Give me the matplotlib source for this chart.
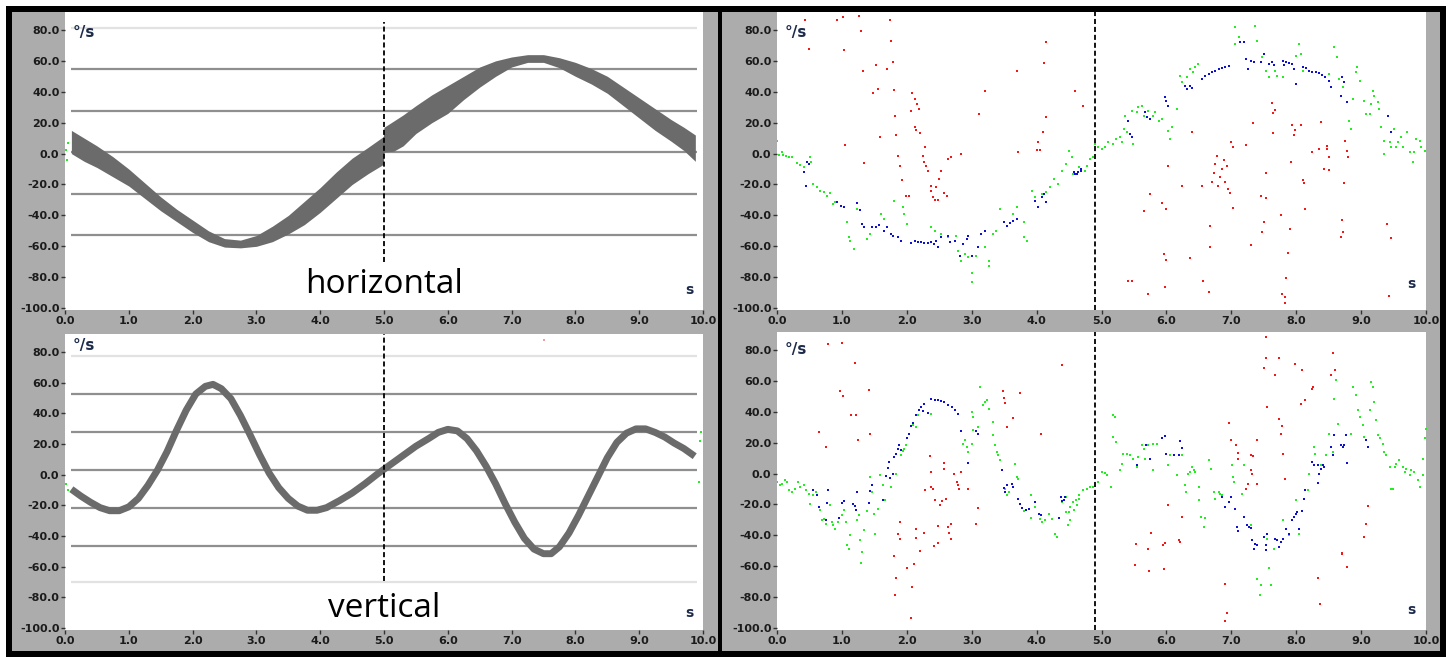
import numpy as np
import matplotlib
matplotlib.use("Agg")
import matplotlib.pyplot as plt
from matplotlib.patches import Rectangle

# ---- размеры картинки (пиксели) ----
W, H = 1451, 657

# ---- оси ----
x_ticks = list(range(0, 11))
y_ticks = list(range(-100, 81, 20))

# опорные горизонтальные линии (значения, °/s)
ref_top = [54.6, 27.7, 0.8, -26.0, -52.7]
ref_top_light = [81.0]
ref_bot = [52.6, 27.8, 3.0, -21.8, -46.7]
ref_bot_light = [77.4, -70.0]

# ---- horizontal: полоса (верхняя и нижняя граница) ----
h_t = [0.10, 0.30, 0.50, 0.75, 1.00, 1.25, 1.50, 1.75, 2.00, 2.25, 2.50, 2.75,
       3.00, 3.25, 3.50, 3.75, 4.00, 4.25, 4.50, 4.75, 4.99,
       5.00, 5.15, 5.30, 5.50, 5.75, 6.00, 6.25, 6.50, 6.75, 7.00, 7.25, 7.50,
       7.75, 8.00, 8.25, 8.50, 8.75, 9.00, 9.25, 9.50, 9.70, 9.88]
h_upper = [15, 10, 5, -2, -10, -19, -28, -36, -43, -50, -55, -56,
           -53, -47, -40, -31, -22, -12, -3, 4, 11,
           17, 21, 25, 31, 38, 44, 50, 56, 60, 62.5, 64, 64,
           62, 59, 55, 50, 43, 36, 29, 22, 17, 12]
h_lower = [0, -5, -9, -15, -21, -29, -37, -44, -51, -57, -60.5, -61,
           -60, -57, -52, -46, -38, -29, -20, -13, -7,
           1, 1.5, 5, 13, 20, 26, 35, 43, 50, 56, 59, 59,
           55.5, 50, 45, 39, 31, 23, 15, 8, 2, -5]

# ---- vertical: линия ----
v_t = [0.10, 0.25, 0.40, 0.55, 0.70, 0.85, 1.00, 1.15, 1.30, 1.45, 1.60, 1.75,
       1.90, 2.05, 2.20, 2.32, 2.45, 2.60, 2.75, 2.90, 3.05, 3.20, 3.35, 3.50,
       3.65, 3.80, 3.95, 4.10, 4.30, 4.50, 4.70, 4.90, 5.10, 5.30, 5.50, 5.70,
       5.85, 6.00, 6.15, 6.30, 6.45, 6.60, 6.75, 6.90, 7.05, 7.20, 7.35, 7.50,
       7.62, 7.75, 7.90, 8.05, 8.20, 8.35, 8.50, 8.65, 8.80, 8.95, 9.10, 9.25,
       9.40, 9.55, 9.70, 9.87]
v_val = [-9.5, -14, -18, -21.5, -23.5, -23.5, -21, -15.5, -7, 3, 15, 29,
         42, 52.5, 57.5, 58.8, 56, 49.5, 38.5, 26, 13, 1, -8.5, -15.5,
         -20.5, -23.2, -23.2, -21.5, -17, -12, -6, 0.5, 6.5, 12.5, 18.5, 23.5,
         27.5, 29.5, 28.5, 23.5, 15.5, 5.5, -6, -19, -31, -41.5, -48.5, -51.5,
         -51.5, -47, -38, -26.5, -14, -1.5, 11, 21, 27, 29.8, 29.8, 27.5,
         24.5, 20.5, 17, 12]

# остаточные точки у краёв левых панелей
tl_specks = [(0.02, 2), (0.04, 7), (0.03, -4)]
bl_specks = [(0.02, -6), (0.05, -10), (9.97, 28), (9.95, 22), (9.94, -5)]
bl_pink = [(7.5, 88)]

# ---- правый верхний: точки ----
tr_green = [(0.0, 8.4), (0.03, -0.6), (0.07, 0.9), (0.1, -0.6), (0.14, -1.3), (0.18, -2.4),
            (0.23, -1.9), (0.31, -6.3), (0.35, -7.3), (0.41, -8.8), (0.51, -2.4), (0.53, -5.6),
            (0.56, -19.6), (0.62, -21.8), (0.67, -24), (0.72, -25), (0.77, -27.2), (0.82, -25.7),
            (0.87, -32.6), (0.9, -31.5), (1.08, -44.4), (1.11, -54.2), (1.13, -56.3), (1.19, -61.7),
            (1.24, -35.8), (1.34, -47.7), (1.39, -55.2), (1.44, -52), (1.6, -39), (1.65, -42.3),
            (1.81, -30.4), (1.94, -34.7), (1.96, -39), (2.01, -45.5), (2.38, -47.7), (2.43, -49.8),
            (2.53, -52), (2.64, -54.2), (2.76, -53.1), (2.79, -62.8), (2.84, -69.3), (2.89, -64.9),
            (2.95, -67.1), (3.0, -77.5), (3.01, -83.3), (3.07, -66), (3.2, -60.6), (3.26, -69.3),
            (3.27, -72.5), (3.33, -52), (3.38, -49.8), (3.44, -35.8), (3.64, -39), (3.7, -34.7),
            (3.8, -44.4), (3.81, -54.2), (3.85, -56.3), (3.93, -23.9), (3.98, -28.3), (4.08, -26.1),
            (4.14, -25), (4.21, -21.8), (4.27, -16.4), (4.33, -19.6), (4.39, -11), (4.45, -6.7),
            (4.5, 1.9), (4.54, -2.4), (4.56, -13.2), (4.66, -8.8), (4.74, -11), (4.77, -7.8),
            (4.82, -3.5), (4.87, -2.4), (4.9, 6.3), (4.95, 4.1), (5.0, 3), (5.05, 4.1), (5.1, 7.3),
            (5.18, 6.3), (5.23, 9.5), (5.28, 10.6), (5.31, 7.3), (5.34, 16), (5.39, 13.8),
            (5.49, 6.3), (5.36, 24.6), (5.47, 27.8), (5.54, 26.8), (5.57, 30), (5.62, 31.1),
            (5.65, 24.6), (5.72, 27.8), (5.8, 24.6), (5.83, 26.8), (5.88, 21.4), (5.93, 22.4),
            (6.03, 14.9), (6.06, 9.5), (6.08, 17), (6.16, 28.9), (6.21, 50.5), (6.24, 46.2),
            (6.31, 49.4), (6.36, 54.8), (6.41, 52.6), (6.44, 55.9), (6.49, 58.0), (7.06, 81.8),
            (7.12, 75.3), (7.06, 71), (7.37, 82.8), (7.4, 73.1), (7.48, 62.4), (7.53, 53.7),
            (7.58, 49.4), (7.68, 53.7), (7.71, 50.5), (7.79, 49.4), (8.0, 63.4), (8.04, 71),
            (8.07, 64.5), (8.1, 53.7), (8.51, 51.6), (8.58, 68.8), (8.63, 62.4), (8.66, 48.3),
            (8.72, 42.9), (8.82, 21.4), (8.84, 16), (8.87, 35.4), (8.92, 52.6), (8.94, 55.9),
            (8.99, 47.2), (9.05, 34.3), (9.08, 25.7), (9.13, 25.7), (9.15, 32.1), (9.18, 40.8),
            (9.2, 37.5), (9.26, 33.2), (9.28, 28.9), (9.31, 17), (9.36, 8.4), (9.36, -0.2),
            (9.44, 7.3), (9.46, 4.1), (9.51, 16), (9.54, 4.1), (9.57, 7.3), (9.62, 10.6),
            (9.64, 4.1), (9.7, 13.8), (9.75, 0.9), (9.8, -5.6), (9.82, 0.9), (9.85, 9.5),
            (9.9, 8.4), (9.93, 4.1), (9.98, 1.9)]
tr_blue = [(0.46, -5.6), (0.49, -6.7), (0.41, -12.1), (0.45, -20.7), (0.93, -31.5), (0.98, -33.7),
           (1.03, -34.3), (1.24, -32.1), (1.28, -36.5), (1.31, -45.5), (1.34, -47.7), (1.47, -47.7),
           (1.52, -47.2), (1.57, -46), (1.65, -49.8), (1.7, -47.7), (1.75, -52), (1.78, -53.1),
           (1.86, -54.2), (1.91, -56.3), (2.07, -58), (2.12, -56.7), (2.17, -57), (2.22, -57.4),
           (2.27, -57.6), (2.32, -58), (2.38, -57.4), (2.42, -58.5), (2.45, -56.3), (2.48, -60.6),
           (2.53, -54.2), (2.64, -53.1), (2.66, -57.4), (2.74, -56.3), (2.82, -66), (2.87, -58.5),
           (2.92, -55.2), (2.95, -53.1), (3.0, -66), (3.1, -60.6), (3.15, -52), (3.2, -49.8),
           (3.49, -44.4), (3.54, -46.6), (3.59, -45.1), (3.64, -43.4), (3.7, -42.3), (3.98, -30.4),
           (4.02, -34.7), (4.08, -28.3), (4.11, -26.1), (4.14, -31.5), (4.58, -12.1), (4.63, -13.2),
           (4.68, -11), (4.59, -13.2), (4.64, -12.1), (4.69, -9.9), (5.41, 21.4), (5.44, 12.7),
           (5.47, 10.6), (5.67, 26.8), (5.7, 23.5), (5.75, 22.4), (5.98, 36.5), (6.0, 34.3),
           (6.03, 31.1), (6.29, 44), (6.31, 41.9), (6.36, 44), (6.39, 42.5), (6.55, 48.3),
           (6.6, 50.5), (6.65, 51.6), (6.7, 52.6), (6.75, 53.7), (6.81, 54.8), (6.86, 55.2),
           (6.91, 55.9), (6.96, 56.5), (7.14, 72.1), (7.19, 72.1), (7.22, 61.3), (7.25, 54.8),
           (7.3, 60.2), (7.35, 59.1), (7.45, 59.1), (7.5, 64.5), (7.58, 58), (7.63, 59.1),
           (7.66, 57), (7.79, 60.2), (7.81, 57), (7.84, 59.1), (7.89, 58.5), (7.94, 58),
           (7.97, 54.8), (8.0, 45.1), (8.1, 55.9), (8.15, 55.2), (8.2, 53.7), (8.25, 53.1),
           (8.3, 52.6), (8.35, 52), (8.4, 51.1), (8.45, 49.8), (8.51, 47.2), (8.53, 42.9),
           (8.71, 49.4), (8.74, 46.2), (8.69, 37.5), (8.79, 33.2), (9.41, 24.6), (9.46, 13.8)]
tr_red = [(0.43, 86.5), (0.49, 67.7), (0.93, 86.5), (1.02, 88.2), (1.03, 66.7), (1.26, 89.3),
          (1.3, 79.2), (1.33, 53.3), (1.48, 39.5), (1.56, 41.9), (1.53, 57.6), (1.58, 11),
          (1.74, 86.5), (1.76, 73.1), (1.7, 54.4), (1.78, 59.5), (1.81, 41.2), (1.82, 24.6),
          (1.84, 11.7), (1.05, 5.8), (1.34, -6.3), (1.87, -1.3), (1.9, -7.8), (1.92, -16.8),
          (1.99, -27.2), (2.04, -27.2), (2.07, 27.8), (2.08, 39), (2.12, 35.4), (2.16, 32.1),
          (2.19, 28.9), (2.13, 17), (2.14, 15.3), (2.21, 13.2), (2.28, 4.1), (2.25, -1.3),
          (2.26, -5.6), (2.3, -7.8), (2.32, -11.4), (2.38, -20.7), (2.37, -24.4), (2.4, -28.3),
          (2.44, -29.8), (2.48, -30), (2.45, -21.4), (2.49, -16.4), (2.52, -11.4), (2.58, -25.5),
          (2.62, -27.2), (2.63, -3.5), (2.68, -2.4), (2.83, -0.2), (3.11, 25.7), (3.21, 40.8),
          (3.7, 53.3), (3.72, 0.9), (4.0, 2.4), (4.06, 2.4), (4.02, 7.3), (4.1, 14.2),
          (4.14, 23.5), (4.12, 58.7), (4.14, 72.1), (4.59, 40.3), (4.72, 31.1), (6.03, -8.2),
          (6.24, -20.7), (6.39, 14.2), (5.65, -37.3), (5.75, -26.1), (5.93, -31.9), (6.0, -35.8),
          (5.96, -64.9), (6.0, -68.8), (5.98, -86.1), (5.72, -90.8), (5.41, -82.6), (5.47, -82.6),
          (6.37, -67.5), (6.55, -20.7), (6.57, -82.6), (6.65, -89.8), (6.67, -60.2), (6.67, -46.6),
          (6.7, -18.6), (6.73, -12.7), (6.75, -6.7), (6.78, -1.3), (6.8, -20.7), (6.83, -15.3),
          (6.86, -9.9), (6.88, -4.1), (6.9, -18.6), (6.93, -8.2), (6.95, -22.9), (6.98, -25.7),
          (6.99, 7.3), (7.02, 4.1), (7.02, -35.2), (7.23, 5.8), (7.31, -59.1), (7.33, 19.8),
          (7.45, -27.2), (7.48, -50.9), (7.5, -44.4), (7.53, -12.5), (7.54, -28.9), (7.62, 32.6),
          (7.64, 26.1), (7.67, 28.3), (7.65, 13.4), (7.76, -39.5), (7.78, -90.8), (7.82, -93),
          (7.83, -96.9), (7.85, -80.5), (7.88, -64.3), (7.9, -48.8), (7.92, -5.2), (7.93, 18.8),
          (7.96, 11.7), (7.98, 15.3), (8.07, 18.6), (8.1, -17), (8.12, -19.2), (8.14, -35.8),
          (8.25, 0.9), (8.35, 3), (8.38, 20.3), (8.43, -9.9), (8.47, 5.2), (8.48, 3),
          (8.5, -1.9), (8.51, -10.6), (8.71, -42.7), (8.72, -50.9), (8.69, -53.7), (8.74, -19.2),
          (8.75, 8.4), (8.78, 1.9), (8.8, -2.4), (9.4, -45.5), (9.46, -54.6), (9.43, -91.9)]

# ---- правый нижний: точки ----
br_green = [(0.0, -5.4), (0.04, -7.6), (0.07, -6.5), (0.12, -4.3), (0.16, -5.4), (0.19, -10.8),
            (0.23, -11.9), (0.28, -9.7), (0.32, -5.4), (0.36, -8.6), (0.41, -7.6), (0.45, -10.8),
            (0.49, -12.9), (0.51, -19.4), (0.55, -14), (0.6, -11.9), (0.66, -23.7), (0.69, -30.2),
            (0.72, -29.1), (0.75, -32.4), (0.82, -20.5), (0.85, -31.3), (0.87, -33.4), (0.9, -36),
            (0.94, -31.3), (1.0, -27), (1.03, -23.7), (1.06, -31.3), (1.08, -46.4), (1.11, -48.5),
            (1.13, -39.9), (1.24, -30.2), (1.26, -27), (1.28, -43.1), (1.31, -50.7), (1.3, -57.8),
            (1.34, -36.2), (1.39, -24.4), (1.44, -2.2), (1.47, -11.9), (1.51, -38.8), (1.5, -25.9),
            (1.55, -22.7), (1.58, -1.1), (1.63, -7.6), (1.66, -17.3), (1.76, -8.6), (1.84, 0),
            (1.91, 11.9), (1.94, 14.5), (1.96, 16.2), (1.99, 18.3), (2.01, 22.7), (2.09, 31.3),
            (2.14, 30.2), (2.17, 37.8), (2.37, 38.8), (3.0, 39.9), (2.87, 19.4), (2.89, 21.6),
            (2.92, 17.3), (2.95, 14), (3.0, 19.4), (3.02, 28), (3.02, 36.7), (3.1, 30.2),
            (3.13, 56.1), (3.18, 44.2), (3.2, 46.4), (3.23, 47.5), (3.26, 42.1), (3.33, 33.4),
            (3.33, 24.8), (3.36, 18.3), (3.39, 14), (3.41, 11.9), (3.44, 8.6), (3.51, -9.7),
            (3.54, -14), (3.57, -11.9), (3.67, 6.5), (3.7, -2.2), (3.72, -3.2), (3.8, -24.4),
            (3.91, -28.7), (3.91, -14), (3.98, -21.6), (4.06, -29.1), (4.08, -31.3), (4.13, -30.2),
            (4.19, -25.9), (4.23, -29.1), (4.29, -38.8), (4.32, -41), (4.39, -18.3), (4.45, -15.1),
            (4.5, -24.8), (4.52, -30.2), (4.58, -23.7), (4.63, -20.5), (4.65, -16.2),
            (4.46, -24.8), (4.49, -33.4), (4.51, -21.6), (4.56, -18.3), (4.61, -17.3), (4.66, -14),
            (4.72, -10.8), (4.77, -9.7), (4.82, -8.6), (4.87, -8.6), (4.95, -5.4), (5.0, 1.1),
            (5.05, 0.6), (5.08, -1.1), (5.15, -8.6), (5.18, 37.8), (5.21, 36.7), (5.18, 23.7),
            (5.23, 20.5), (5.28, 2.2), (5.31, 6.5), (5.33, 12.9), (5.39, 12.9), (5.44, 11.9),
            (5.49, 9.7), (5.54, 4.3), (5.57, 10.8), (5.62, 18.3), (5.65, 16.2), (5.67, 9.7),
            (5.72, 18.3), (5.79, 2.2), (5.8, 19.4), (5.85, 19.4), (5.93, 22.7), (6.03, 5.4),
            (6.06, 11.9), (6.11, 11.9), (6.16, -1.1), (6.24, 11.9), (6.29, -7.6), (6.3, -11.9),
            (6.34, 0), (6.37, 1.1), (6.39, 4.3), (6.42, 2.2), (6.44, 1.1), (6.5, -8.6),
            (6.5, -17.3), (6.54, -28), (6.58, -34.5), (6.6, -28.7), (6.65, 8.6), (6.68, 3.2),
            (6.73, -11.9), (6.75, -16.2), (6.81, -11.9), (6.83, -12.9), (6.86, -14), (7.01, 5.4),
            (7.02, -2.2), (7.04, -5.4), (7.17, -12.9), (7.19, 5.4), (7.3, -33.4), (7.4, -68),
            (7.45, -72.3), (7.44, -78.7), (7.58, -61.1), (7.61, -72.3), (7.55, -42.1), (7.66, -48.5),
            (7.79, -30.2), (7.89, -39.9), (8.0, -17.3), (8.05, -38.8), (8.18, -10.8), (8.2, 0),
            (8.28, 17.3), (8.29, 12.9), (8.38, 5.4), (8.46, 11.9), (8.51, 25.9), (8.56, 14),
            (8.59, 48.5), (8.61, 60.4), (8.64, 32.4), (8.84, 25.9), (8.87, 56.1), (8.92, 50.7),
            (8.95, 41), (8.98, 36.7), (9.03, 31.3), (9.05, 23.7), (9.13, 41), (9.15, 59.3),
            (9.18, 56.1), (9.2, 46.4), (9.23, 34.5), (9.26, 24.8), (9.29, 22.7), (9.33, 19.4),
            (9.36, 14), (9.39, 11.9), (9.44, 4.3), (9.46, -9.7), (9.49, -9.7), (9.52, 4.3),
            (9.54, 6.5), (9.59, 8.6), (9.64, 4.3), (9.67, 1.1), (9.69, 3.2), (9.75, -1.1),
            (9.77, 2.2), (9.82, 1.1), (9.88, -4.3), (9.9, -8.6), (9.95, -1.1), (9.95, 9.7),
            (9.98, 22.7), (10.0, 29.1)]
br_blue = [(0.56, -10.8), (0.61, -14), (0.64, -21.6), (0.78, -10.8), (0.77, -19), (0.75, -30.2),
           (0.95, -28.7), (1.0, -18.8), (1.03, -17.9), (1.17, -19.4), (1.2, -21.1), (1.21, -23.7),
           (1.24, -11.9), (1.41, -19), (1.44, -11.4), (1.47, -7.6), (1.64, -17.3), (1.68, -1.7),
           (1.71, 3.9), (1.72, 7.6), (1.74, -2.6), (1.79, 0), (1.81, 10.8), (1.86, 16.2),
           (1.88, 18.3), (1.91, 15.1), (1.83, 12.9), (2.01, 22.7), (2.04, 25.9), (2.07, 30.9),
           (2.09, 33), (2.14, 37.8), (2.19, 41), (2.22, 43.1), (2.25, 40.3), (2.27, 45.3),
           (2.32, 39.5), (2.38, 48.5), (2.43, 47.5), (2.48, 47.5), (2.53, 47), (2.58, 46.4),
           (2.63, 44.2), (2.69, 43.1), (2.74, 41), (2.79, 38.8), (2.83, 27.4), (2.95, 7.1),
           (3.07, 27.4), (3.09, 25.9), (3.46, 2.2), (3.49, -9.3), (3.51, -11.9), (3.54, -7.1),
           (3.62, -6.5), (3.64, -8.6), (3.72, -16.2), (3.75, -19.4), (3.77, -22.2), (3.83, -23.7),
           (3.88, -22.7), (3.98, -18.3), (4.03, -25.9), (4.07, -27), (4.34, -28.7), (4.37, -15.1),
           (4.39, -17.9), (4.42, -17.3), (4.43, -15.1), (5.54, 5.4), (5.69, 18.3), (5.75, 9.7),
           (5.93, 22.7), (5.98, 24.4), (6.0, 12.9), (6.11, 11.9), (6.19, 11.9), (6.21, 20.9),
           (6.24, 16.6), (6.86, -15.1), (6.91, -21.6), (6.97, -18.3), (6.99, -15.1), (7.06, -22.7),
           (7.09, -34.5), (7.1, -37.3), (7.19, -28), (7.24, -33.4), (7.27, -34.5), (7.31, -35.2),
           (7.32, -43.1), (7.35, -48.5), (7.37, -45.3), (7.4, -46.4), (7.5, -41), (7.53, -46.4),
           (7.54, -49.6), (7.55, -38.8), (7.68, -42.1), (7.71, -43.1), (7.73, -47.5), (7.76, -44.2),
           (7.79, -42.1), (7.84, -35.6), (7.89, -38.8), (7.94, -30.2), (7.97, -28), (8.0, -25.9),
           (8.02, -24.8), (8.05, -35.6), (8.09, -24.4), (8.12, -16.2), (8.14, -10.8), (8.25, 7.6),
           (8.28, 5.4), (8.33, 5.4), (8.35, 0), (8.38, 3.2), (8.41, 5.4), (8.43, 4.3),
           (8.34, -5.8), (8.53, 17.3), (8.56, 11.9), (8.59, 24.8), (8.69, 18.3), (8.72, 17.3),
           (8.74, 18.3), (8.77, 24.8), (8.79, 7.1), (9.08, 21.6), (9.1, 17.3)]
br_red = [(0.79, 83.7), (1.0, 84.6), (1.2, 71.6), (0.97, 53.3), (1.02, 50.1), (1.41, 53.9),
          (1.14, 38.2), (1.22, 38.2), (1.44, 25.9), (1.25, 21.6), (0.64, 27), (0.75, 17.3),
          (1.8, -53.3), (1.84, -67.5), (1.82, -78.7), (1.9, -31.3), (1.87, -38.8), (1.9, -42.5),
          (2.01, -61.1), (2.11, -58.7), (2.08, -73.4), (2.07, -93.2), (2.14, -35.6), (2.14, -41.4),
          (2.21, -50.3), (2.26, -38.4), (2.35, 11.2), (2.38, 1.1), (2.28, -10.8), (2.37, -8.6),
          (2.4, -10.1), (2.44, -16.8), (2.48, -33.9), (2.42, -46.8), (2.48, -44.7), (2.51, -20.1),
          (2.54, -17.9), (2.57, 3.2), (2.58, 6.9), (2.61, -16.2), (2.64, -34.5), (2.65, -38.4),
          (2.68, -42.5), (2.68, -32.4), (2.77, -5.4), (2.79, -7.6), (2.8, -9.7), (2.73, 0),
          (2.83, 1.1), (2.95, -9.7), (3.09, -22), (3.07, -32.4), (3.48, 53.3), (3.49, 49),
          (3.52, 45.7), (3.54, 30.2), (3.63, 36.2), (3.74, 52.2), (4.07, 25.5), (4.39, 70.1),
          (7.53, 88.5), (7.53, 74.9), (7.5, 68.4), (7.73, 74.9), (7.68, 63.6), (7.55, 43.1),
          (7.98, 71.2), (8.09, 66.9), (8.26, 56.1), (8.24, 55), (8.14, 47.5), (8.07, 44.7),
          (8.56, 78.3), (8.6, 66.9), (8.53, 63.6), (7.73, 35.2), (7.78, 30.9), (7.76, 25.9),
          (7.79, 12.9), (7.82, -3.2), (6.97, 32.8), (7.0, 21.6), (7.07, 18.3), (7.1, 13.6),
          (7.11, 9.7), (7.31, 11.9), (7.34, 11.4), (7.39, 21.6), (7.3, 2.2), (7.32, 0),
          (7.39, -6.5), (7.25, -6.5), (7.22, -9.7), (6.02, -20.5), (6.24, -28), (6.2, -43.1),
          (6.21, -44.2), (5.98, -44.7), (5.95, -46.4), (5.76, -38.4), (5.71, -48.5), (5.53, -45.7),
          (5.51, -59.3), (5.73, -63.2), (5.97, -61.5), (6.9, -71.6), (6.94, -90.2), (6.91, -95.6),
          (8.33, -67.5), (8.36, -84.1), (8.7, -51.8), (8.71, -51.1), (8.79, -60.4), (9.1, -21.1),
          (9.08, -32.4), (9.05, -41)]

# пунктирные метки времени: (t, низ, верх)
marker_left_top = (5.0, -70.2, 85.4)
marker_left_bot = (5.0, -69.6, 92.0)
marker_right = (4.9, -101.0, 92.0)

# ---- цвета ----
GRAY_BG = '#acacac'
BAND = '#6b6b6b'
REF = '#8f8f8f'
REF_LIGHT = '#e2e2e2'
GREEN = '#22ee22'
BLUE = '#1010d0'
RED = '#f01818'
TXT = '#1b1b1b'
UNIT = '#1c2b4a'

YLIM = (-101.2, 91.6)

fig = plt.figure(figsize=(W / 100, H / 100), dpi=100)
fig.patch.set_facecolor('white')


def rect_px(x0, y0, x1, y1, color):
    r = Rectangle((x0 / W, 1 - y1 / H), (x1 - x0) / W, (y1 - y0) / H,
                  transform=fig.transFigure, facecolor=color, edgecolor='none', zorder=-10)
    fig.patches.append(r)


def axes_px(x0, y0, x1, y1):
    return fig.add_axes([x0 / W, 1 - y1 / H, (x1 - x0) / W, (y1 - y0) / H])


# рамка и серые поля
rect_px(6, 6, 1446, 657, 'black')
rect_px(12, 12, 718, 651, GRAY_BG)
rect_px(722, 12, 1440, 651, GRAY_BG)

ax_tl = axes_px(65, 12, 703, 310)
ax_bl = axes_px(65, 334, 703, 630)
ax_tr = axes_px(777, 12, 1426, 310)
ax_br = axes_px(777, 332, 1426, 630)

for ax in (ax_tl, ax_bl, ax_tr, ax_br):
    ax.set_facecolor('white')
    for s in ax.spines.values():
        s.set_visible(False)
    ax.set_xlim(0, 10)
    ax.set_ylim(*YLIM)
    ax.set_xticks(x_ticks)
    ax.set_xticklabels([f"{x:.1f}" for x in x_ticks], fontsize=8, fontweight='bold', color=TXT)
    ax.set_yticks(y_ticks)
    ax.set_yticklabels([f"{y:.1f}" for y in y_ticks], fontsize=8, fontweight='bold', color=TXT)
    ax.tick_params(axis='both', direction='out', length=3, width=1, color='#333333', pad=1)

# ---- левые панели ----
ax_tl.hlines(ref_top, 0.1, 9.9, color=REF, lw=1.6, zorder=1)
ax_tl.hlines(ref_top_light, 0.1, 9.9, color=REF_LIGHT, lw=1.6, zorder=1)
ax_tl.fill_between(h_t, h_lower, h_upper, color=BAND, lw=0, zorder=2)
ax_tl.vlines(marker_left_top[0], marker_left_top[1], marker_left_top[2], color='black',
             lw=1.3, linestyles=(0, (2.8, 1.6)), zorder=3)
ax_tl.text(5.0, 0.057, 'horizontal', transform=ax_tl.get_xaxis_transform(), ha='center',
           va='baseline', fontsize=24, family='Open Sans', color='black')
sp = np.array(tl_specks)
ax_tl.scatter(sp[:, 0], sp[:, 1], s=1.5, marker='s', color=GREEN, linewidths=0, zorder=2, clip_on=False)

ax_bl.hlines(ref_bot, 0.1, 9.9, color=REF, lw=1.6, zorder=1)
ax_bl.hlines(ref_bot_light, 0.1, 9.9, color=REF_LIGHT, lw=1.6, zorder=1)
ax_bl.plot(v_t, v_val, color=BAND, lw=5, solid_capstyle='butt', solid_joinstyle='round', zorder=2)
ax_bl.vlines(marker_left_bot[0], marker_left_bot[1], marker_left_bot[2], color='black',
             lw=1.3, linestyles=(0, (2.8, 1.6)), zorder=3)
ax_bl.text(5.0, 0.044, 'vertical', transform=ax_bl.get_xaxis_transform(), ha='center',
           va='baseline', fontsize=24, family='Open Sans', color='black')
sp = np.array(bl_specks)
ax_bl.scatter(sp[:, 0], sp[:, 1], s=1.5, marker='s', color=GREEN, linewidths=0, zorder=2)
sp = np.array(bl_pink)
ax_bl.scatter(sp[:, 0], sp[:, 1], s=1.5, marker='s', color='#f4a0a0', linewidths=0, zorder=2)

# ---- правые панели ----
for ax, g, b, r in ((ax_tr, tr_green, tr_blue, tr_red), (ax_br, br_green, br_blue, br_red)):
    g = np.array(g)
    b = np.array(b)
    r = np.array(r)
    ax.scatter(g[:, 0], g[:, 1], s=3.5, marker='s', color=GREEN, linewidths=0, zorder=2)
    ax.scatter(b[:, 0], b[:, 1], s=4.5, marker='s', color=BLUE, linewidths=0, zorder=3)
    ax.scatter(r[:, 0], r[:, 1], s=3.5, marker='s', color=RED, linewidths=0, zorder=4)
    ax.vlines(marker_right[0], marker_right[1], marker_right[2], color='black',
              lw=1.3, linestyles=(0, (2.8, 1.6)), zorder=5)

# подписи единиц
for ax, ytop, ys in ((ax_tl, 0.955, 0.045), (ax_bl, 0.985, 0.035),
                     (ax_tr, 0.955, 0.065), (ax_br, 0.965, 0.045)):
    ax.text(0.012, ytop, '°/s', transform=ax.transAxes, ha='left', va='top',
            fontsize=11, fontweight='bold', color=UNIT, zorder=6)
    ax.text(0.978, ys, 's', transform=ax.transAxes, ha='center', va='bottom',
            fontsize=10, fontweight='bold', color=UNIT, zorder=6)

fig.savefig('out.png', dpi=100)
